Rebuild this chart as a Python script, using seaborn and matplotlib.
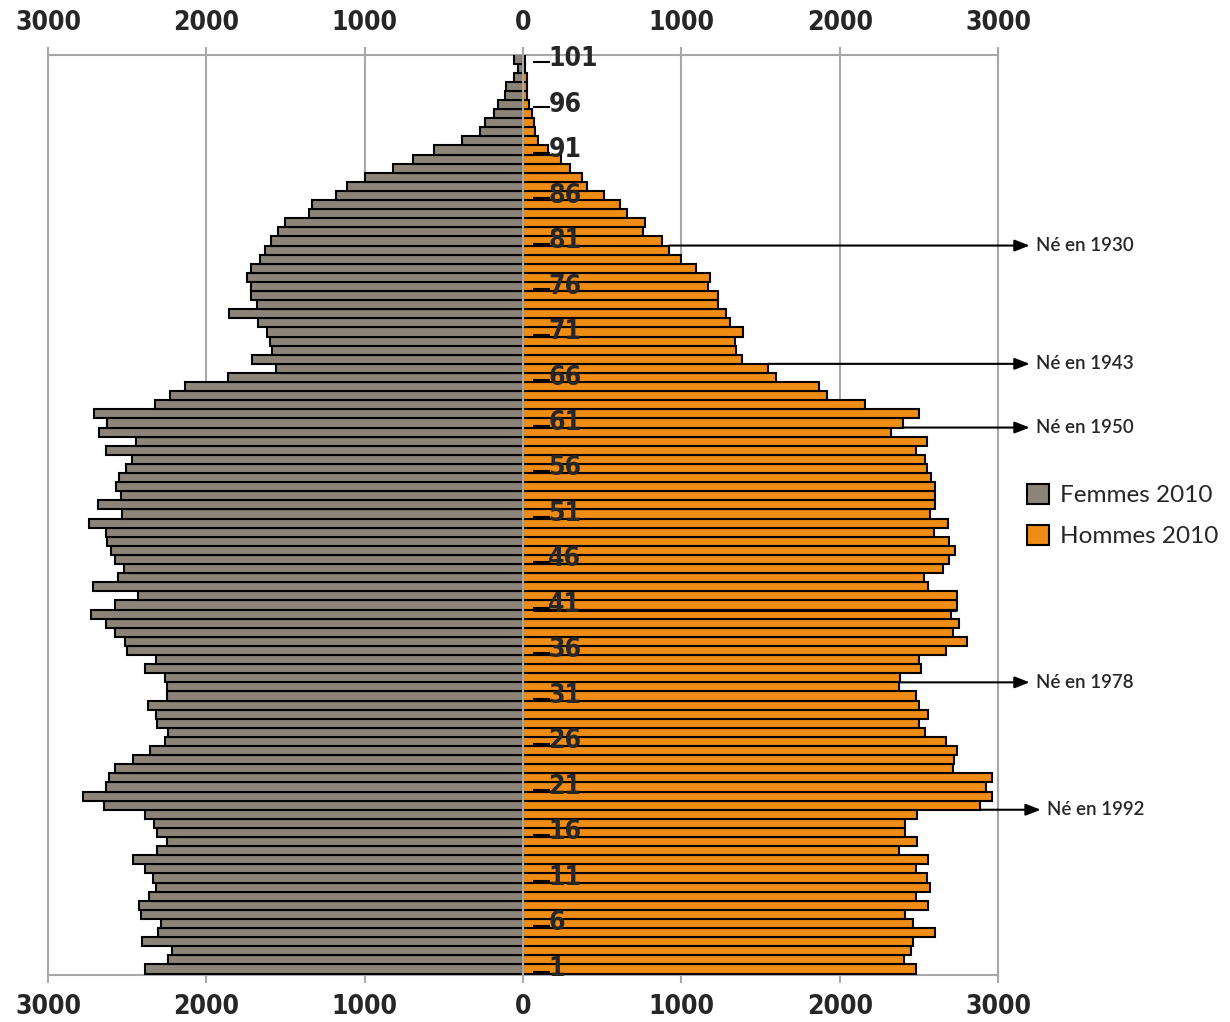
import numpy as np
import pandas as pd
import matplotlib
matplotlib.use("Agg")
import matplotlib.pyplot as plt
from matplotlib.patches import Patch
from matplotlib.ticker import FuncFormatter, MultipleLocator
import seaborn as sns

#data (ages 1..101)
ages = list(range(1, 102))
femmes = [2385, 2240, 2220, 2405, 2305, 2285, 2415, 2425, 2365, 2315,
          2335, 2385, 2465, 2310, 2250, 2310, 2330, 2385, 2645, 2780,
          2635, 2615, 2575, 2465, 2355, 2260, 2240, 2310, 2315, 2370,
          2250, 2250, 2260, 2385, 2315, 2500, 2515, 2575, 2635, 2730,
          2575, 2430, 2715, 2555, 2520, 2580, 2605, 2625, 2635, 2740,
          2530, 2685, 2540, 2570, 2550, 2510, 2470, 2635, 2445, 2680,
          2625, 2710, 2325, 2230, 2135, 1865, 1560, 1710, 1585, 1600,
          1615, 1675, 1855, 1680, 1720, 1715, 1745, 1720, 1660, 1630,
          1590, 1545, 1505, 1350, 1330, 1180, 1110, 995, 820, 695,
          560, 385, 270, 240, 185, 160, 115, 110, 60, 30, 55]
hommes = [2485, 2405, 2450, 2465, 2600, 2460, 2415, 2555, 2485, 2570,
          2550, 2480, 2555, 2375, 2490, 2415, 2415, 2490, 2885, 2965,
          2925, 2960, 2715, 2720, 2740, 2670, 2540, 2500, 2555, 2500,
          2480, 2375, 2380, 2515, 2500, 2670, 2805, 2715, 2755, 2700,
          2740, 2740, 2560, 2535, 2650, 2690, 2730, 2690, 2595, 2685,
          2570, 2605, 2605, 2600, 2575, 2550, 2540, 2480, 2550, 2325,
          2400, 2500, 2160, 1920, 1870, 1595, 1550, 1380, 1345, 1340,
          1390, 1310, 1280, 1230, 1230, 1170, 1180, 1090, 995, 925,
          880, 760, 770, 655, 610, 510, 405, 370, 295, 240,
          155, 95, 75, 70, 55, 40, 25, 25, 25, 10, 15]
age_labels = list(range(1, 102, 5))
naissances = [1930, 1943, 1950, 1978, 1992]
annee = 2010

df = pd.DataFrame({"age": ages, "femmes": femmes, "hommes": hommes})

c_f = "#8c8479"
c_h = "#ef8c14"
narrow = ["DejaVu Sans"]
geo = ["Lato", "DejaVu Sans"]

sns.set_style("white")
fig = plt.figure(figsize=(12.3, 10.22), dpi=100)
ax = fig.add_axes([48/1230, 1-975/1022, 950/1230, 920/1022])

sns.barplot(x=-df.femmes, y=df.age, orient="h", native_scale=True, width=1,
            color=c_f, edgecolor="black", linewidth=1.5, saturation=1, ax=ax, zorder=3)
sns.barplot(x=df.hommes, y=df.age, orient="h", native_scale=True, width=1,
            color=c_h, edgecolor="black", linewidth=1.5, saturation=1, ax=ax, zorder=3)

ax.set_xlim(-3000, 3000)
ax.set_ylim(0.34, 101.44)
ax.xaxis.set_major_locator(MultipleLocator(1000))
ax.xaxis.set_major_formatter(FuncFormatter(lambda v, p: f"{abs(int(v))}"))
ax.grid(axis="x", color="#a8a8a8", lw=1.5, zorder=0)
ax.axvline(0, color="#a8a8a8", lw=1.5, zorder=4)
ax.set_yticks([])
ax.set_xlabel("")
ax.set_ylabel("")
for s in ax.spines.values():
    s.set_color("#a8a8a8")
    s.set_linewidth(1.5)
ax.tick_params(axis="x", top=True, labeltop=True, bottom=True, labelbottom=True,
               direction="out", length=6, width=1.5, color="#a8a8a8", pad=8)
for lab in ax.get_xticklabels():
    lab.set_fontsize(19)
    lab.set_family(narrow)
    lab.set_fontstretch("condensed")
    lab.set_fontweight("bold")

#age labels in the middle
for a in age_labels:
    ax.hlines(a - 0.3, 60, 170, color="black", lw=1.5, zorder=5)
    ax.text(160, a, str(a), fontsize=19, family=narrow, fontstretch="condensed",
            fontweight="bold", va="center", ha="left", zorder=6)

#line at 41
ax.hlines(40.5, 60, df.hommes[df.age == 41].iloc[0], color="black", lw=2.2, zorder=5)

#birth year arrows
for yr in naissances:
    a = annee - yr
    x0 = max(df.hommes[df.age == a].iloc[0], df.hommes[df.age == a + 1].iloc[0])
    xe = 3200 if yr != 1992 else 3270
    ax.annotate("", xy=(xe, a + 0.5), xytext=(x0, a + 0.5), annotation_clip=False,
                arrowprops=dict(arrowstyle="-|>,head_length=0.9,head_width=0.35",
                                color="black", lw=1.5, shrinkA=0, shrinkB=0), zorder=6)
    ax.text(xe + 40, a + 0.5, f"Né en {yr}", fontsize=13.5, family=geo,
            fontweight="semibold", va="center", ha="left", clip_on=False)

handles = [Patch(facecolor=c_f, edgecolor="black", lw=1.5, label="Femmes 2010"),
           Patch(facecolor=c_h, edgecolor="black", lw=1.5, label="Hommes 2010")]
fig.legend(handles=handles, loc="upper left", bbox_to_anchor=(1005/1230, 1-462/1022),
           frameon=False, prop={"family": geo, "size": 17.5}, handlelength=0.9,
           handleheight=0.9, handletextpad=0.45, labelspacing=0.75)

fig.savefig("out.png", dpi=100)
